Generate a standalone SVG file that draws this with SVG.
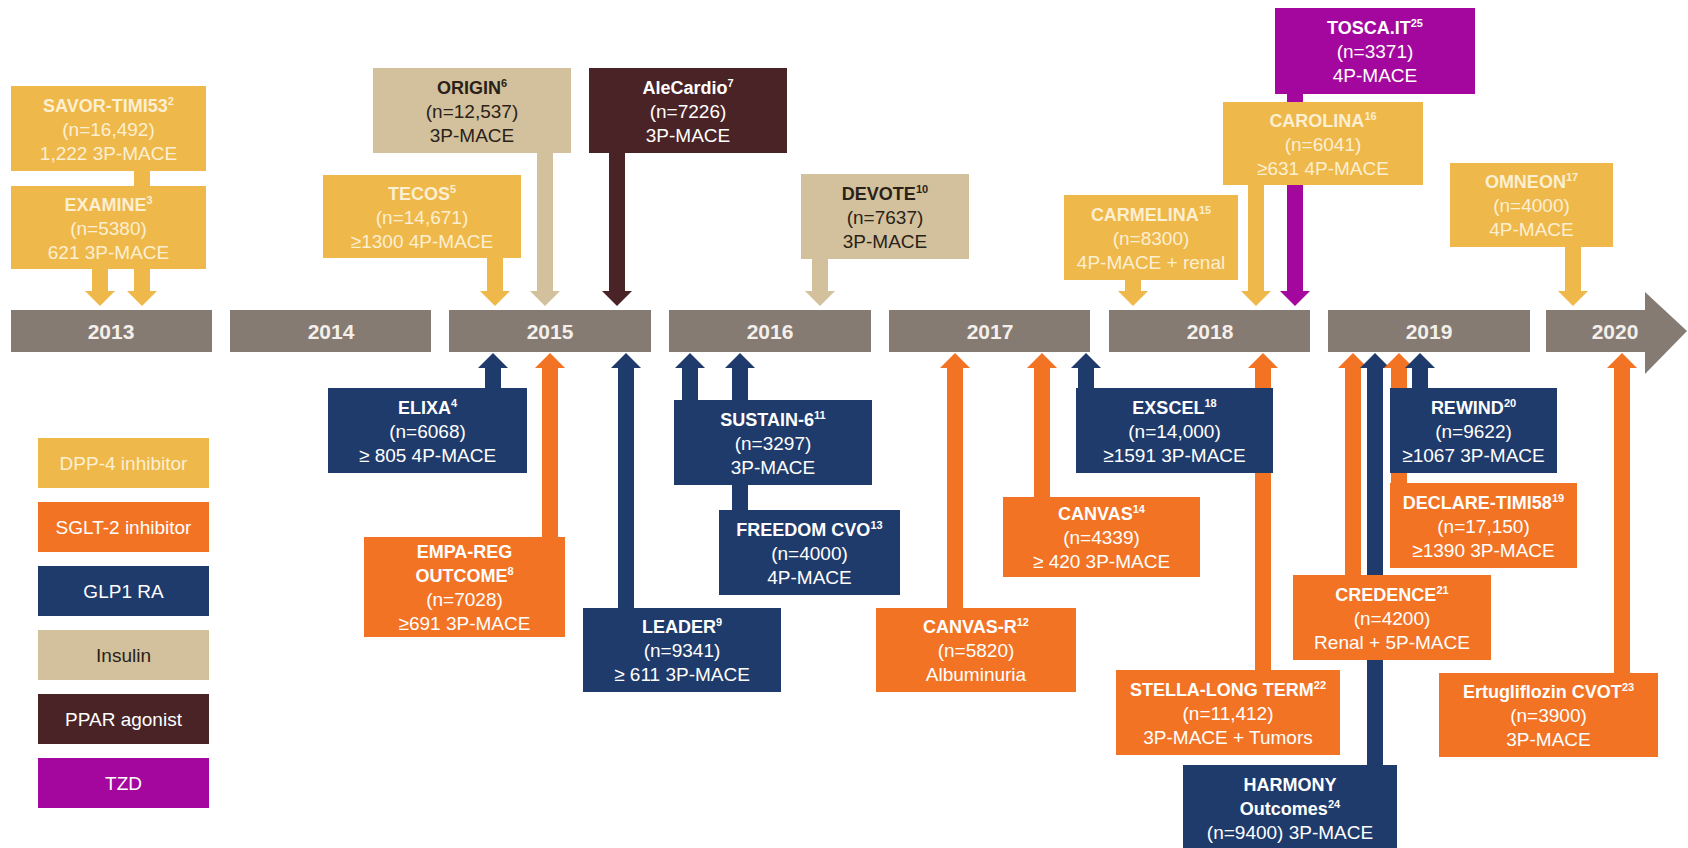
<svg xmlns="http://www.w3.org/2000/svg" width="1688" height="848" viewBox="0 0 1688 848">
<style>
text{font-family:"Liberation Sans",Arial,sans-serif;text-anchor:middle;font-size:19px}
.t{font-weight:bold;font-size:18px}
.yr{font-weight:bold;font-size:21px;fill:#F4EFEA}
.sup{font-size:11px}
.cy{fill:#FCEFD2}.cw{fill:#FFFFFF}.cd{fill:#2A2119}
.fy{fill:#EFB84A}.fo{fill:#F37325}.fn{fill:#1F3B6C}.ft{fill:#D2C19C}.fb{fill:#4A2326}.fm{fill:#A4079E}.fg{fill:#857B72}
.a{stroke-width:16;fill:none}
.sy{stroke:#EFB84A}.so{stroke:#F37325}.sn{stroke:#1F3B6C}.st{stroke:#D2C19C}.sb{stroke:#4A2326}.sm{stroke:#A4079E}
</style>
<defs>
<marker id="my" viewBox="0 -15 15 30" markerUnits="userSpaceOnUse" markerWidth="15" markerHeight="30" refX="0" refY="0" orient="auto"><path d="M0,-15L15,0L0,15z" fill="#EFB84A"/></marker>
<marker id="mo" viewBox="0 -15 15 30" markerUnits="userSpaceOnUse" markerWidth="15" markerHeight="30" refX="0" refY="0" orient="auto"><path d="M0,-15L15,0L0,15z" fill="#F37325"/></marker>
<marker id="mn" viewBox="0 -15 15 30" markerUnits="userSpaceOnUse" markerWidth="15" markerHeight="30" refX="0" refY="0" orient="auto"><path d="M0,-15L15,0L0,15z" fill="#1F3B6C"/></marker>
<marker id="mt" viewBox="0 -15 15 30" markerUnits="userSpaceOnUse" markerWidth="15" markerHeight="30" refX="0" refY="0" orient="auto"><path d="M0,-15L15,0L0,15z" fill="#D2C19C"/></marker>
<marker id="mb" viewBox="0 -15 15 30" markerUnits="userSpaceOnUse" markerWidth="15" markerHeight="30" refX="0" refY="0" orient="auto"><path d="M0,-15L15,0L0,15z" fill="#4A2326"/></marker>
<marker id="mm" viewBox="0 -15 15 30" markerUnits="userSpaceOnUse" markerWidth="15" markerHeight="30" refX="0" refY="0" orient="auto"><path d="M0,-15L15,0L0,15z" fill="#A4079E"/></marker>
</defs>
<rect width="1688" height="848" fill="#FFFFFF"/>

<g id="timeline">
<rect class="fg" x="11" y="310" width="201" height="42"/>
<rect class="fg" x="230" y="310" width="201" height="42"/>
<rect class="fg" x="449" y="310" width="202" height="42"/>
<rect class="fg" x="669" y="310" width="202" height="42"/>
<rect class="fg" x="889" y="310" width="201" height="42"/>
<rect class="fg" x="1109" y="310" width="201" height="42"/>
<rect class="fg" x="1328" y="310" width="202" height="42"/>
<path class="fg" d="M1546,310H1645V292L1687,331L1645,374V352H1546z"/>
<text class="yr" x="111" y="339">2013</text>
<text class="yr" x="331" y="339">2014</text>
<text class="yr" x="550" y="339">2015</text>
<text class="yr" x="770" y="339">2016</text>
<text class="yr" x="990" y="339">2017</text>
<text class="yr" x="1210" y="339">2018</text>
<text class="yr" x="1429" y="339">2019</text>
<text class="yr" x="1615" y="339">2020</text>
</g>

<g id="connectors">
<line class="a sy" x1="100" y1="269" x2="100" y2="291" marker-end="url(#my)"/>
<line class="a sy" x1="142" y1="171" x2="142" y2="291" marker-end="url(#my)"/>
<line class="a sy" x1="495" y1="258" x2="495" y2="291" marker-end="url(#my)"/>
<line class="a st" x1="545" y1="153" x2="545" y2="291" marker-end="url(#mt)"/>
<line class="a sb" x1="617" y1="153" x2="617" y2="291" marker-end="url(#mb)"/>
<line class="a st" x1="820" y1="259" x2="820" y2="291" marker-end="url(#mt)"/>
<line class="a sy" x1="1133" y1="280" x2="1133" y2="291" marker-end="url(#my)"/>
<line class="a sy" x1="1256" y1="185" x2="1256" y2="291" marker-end="url(#my)"/>
<line class="a sm" x1="1295" y1="94" x2="1295" y2="291" marker-end="url(#mm)"/>
<line class="a sy" x1="1573" y1="247" x2="1573" y2="291" marker-end="url(#my)"/>

<line class="a sn" x1="493" y1="388" x2="493" y2="368" marker-end="url(#mn)"/>
<line class="a so" x1="550" y1="537" x2="550" y2="368" marker-end="url(#mo)"/>
<line class="a sn" x1="626" y1="608" x2="626" y2="368" marker-end="url(#mn)"/>
<line class="a sn" x1="690" y1="400" x2="690" y2="368" marker-end="url(#mn)"/>
<line class="a sn" x1="740" y1="510" x2="740" y2="368" marker-end="url(#mn)"/>
<line class="a so" x1="955" y1="608" x2="955" y2="368" marker-end="url(#mo)"/>
<line class="a so" x1="1042" y1="497" x2="1042" y2="368" marker-end="url(#mo)"/>
<line class="a sn" x1="1086" y1="388" x2="1086" y2="368" marker-end="url(#mn)"/>
<line class="a so" x1="1263" y1="670" x2="1263" y2="368" marker-end="url(#mo)"/>
<line class="a so" x1="1353" y1="575" x2="1353" y2="368" marker-end="url(#mo)"/>
<line class="a sn" x1="1375" y1="765" x2="1375" y2="368" marker-end="url(#mn)"/>
<line class="a so" x1="1399" y1="483" x2="1399" y2="368" marker-end="url(#mo)"/>
<line class="a sn" x1="1420" y1="388" x2="1420" y2="368" marker-end="url(#mn)"/>
<line class="a so" x1="1622" y1="673" x2="1622" y2="368" marker-end="url(#mo)"/>
</g>

<g id="savor"><rect class="fy" x="11" y="86" width="195" height="85"/>
<text class="t cy" x="108.5" y="111.5">SAVOR-TIMI53<tspan class="sup" dy="-7">2</tspan></text>
<text class="cy" x="108.5" y="135.5">(n=16,492)</text>
<text class="cy" x="108.5" y="159.5">1,222 3P-MACE</text></g>

<g id="examine"><rect class="fy" x="11" y="186" width="195" height="83"/>
<text class="t cy" x="108.5" y="210.5">EXAMINE<tspan class="sup" dy="-7">3</tspan></text>
<text class="cy" x="108.5" y="234.5">(n=5380)</text>
<text class="cy" x="108.5" y="258.5">621 3P-MACE</text></g>

<g id="tecos"><rect class="fy" x="323" y="175" width="198" height="83"/>
<text class="t cy" x="422" y="199.5">TECOS<tspan class="sup" dy="-7">5</tspan></text>
<text class="cy" x="422" y="223.5">(n=14,671)</text>
<text class="cy" x="422" y="247.5">≥1300 4P-MACE</text></g>

<g id="origin"><rect class="ft" x="373" y="68" width="198" height="85"/>
<text class="t cd" x="472" y="93.5">ORIGIN<tspan class="sup" dy="-7">6</tspan></text>
<text class="cd" x="472" y="117.5">(n=12,537)</text>
<text class="cd" x="472" y="141.5">3P-MACE</text></g>

<g id="alecardio"><rect class="fb" x="589" y="68" width="198" height="85"/>
<text class="t cw" x="688" y="93.5">AleCardio<tspan class="sup" dy="-7">7</tspan></text>
<text class="cw" x="688" y="117.5">(n=7226)</text>
<text class="cw" x="688" y="141.5">3P-MACE</text></g>

<g id="devote"><rect class="ft" x="801" y="174" width="168" height="85"/>
<text class="t cd" x="885" y="199.5">DEVOTE<tspan class="sup" dy="-7">10</tspan></text>
<text class="cd" x="885" y="223.5">(n=7637)</text>
<text class="cd" x="885" y="247.5">3P-MACE</text></g>

<g id="carmelina"><rect class="fy" x="1064" y="195" width="174" height="85"/>
<text class="t cy" x="1151" y="220.5">CARMELINA<tspan class="sup" dy="-7">15</tspan></text>
<text class="cy" x="1151" y="244.5">(n=8300)</text>
<text class="cy" x="1151" y="268.5">4P-MACE + renal</text></g>

<g id="carolina"><rect class="fy" x="1223" y="102" width="200" height="83"/>
<text class="t cy" x="1323" y="126.5">CAROLINA<tspan class="sup" dy="-7">16</tspan></text>
<text class="cy" x="1323" y="150.5">(n=6041)</text>
<text class="cy" x="1323" y="174.5">≥631 4P-MACE</text></g>

<g id="toscait"><rect class="fm" x="1275" y="8" width="200" height="86"/>
<text class="t cw" x="1375" y="34">TOSCA.IT<tspan class="sup" dy="-7">25</tspan></text>
<text class="cw" x="1375" y="58">(n=3371)</text>
<text class="cw" x="1375" y="82">4P-MACE</text></g>

<g id="omneon"><rect class="fy" x="1450" y="163" width="163" height="84"/>
<text class="t cy" x="1531.5" y="188">OMNEON<tspan class="sup" dy="-7">17</tspan></text>
<text class="cy" x="1531.5" y="212">(n=4000)</text>
<text class="cy" x="1531.5" y="236">4P-MACE</text></g>

<g id="elixa"><rect class="fn" x="328" y="388" width="199" height="85"/>
<text class="t cw" x="427.5" y="413.5">ELIXA<tspan class="sup" dy="-7">4</tspan></text>
<text class="cw" x="427.5" y="437.5">(n=6068)</text>
<text class="cw" x="427.5" y="461.5">≥ 805 4P-MACE</text></g>

<g id="empareg"><rect class="fo" x="364" y="537" width="201" height="100"/>
<text class="t cw" x="464.5" y="558">EMPA-REG</text>
<text class="t cw" x="464.5" y="582">OUTCOME<tspan class="sup" dy="-7">8</tspan></text>
<text class="cw" x="464.5" y="606">(n=7028)</text>
<text class="cw" x="464.5" y="630">≥691 3P-MACE</text></g>

<g id="leader"><rect class="fn" x="583" y="608" width="198" height="84"/>
<text class="t cw" x="682" y="633">LEADER<tspan class="sup" dy="-7">9</tspan></text>
<text class="cw" x="682" y="657">(n=9341)</text>
<text class="cw" x="682" y="681">≥ 611 3P-MACE</text></g>

<g id="sustain6"><rect class="fn" x="674" y="400" width="198" height="85"/>
<text class="t cw" x="773" y="425.5">SUSTAIN-6<tspan class="sup" dy="-7">11</tspan></text>
<text class="cw" x="773" y="449.5">(n=3297)</text>
<text class="cw" x="773" y="473.5">3P-MACE</text></g>

<g id="freedomcvo"><rect class="fn" x="719" y="510" width="181" height="85"/>
<text class="t cw" x="809.5" y="535.5">FREEDOM CVO<tspan class="sup" dy="-7">13</tspan></text>
<text class="cw" x="809.5" y="559.5">(n=4000)</text>
<text class="cw" x="809.5" y="583.5">4P-MACE</text></g>

<g id="canvasr"><rect class="fo" x="876" y="608" width="200" height="84"/>
<text class="t cw" x="976" y="633">CANVAS-R<tspan class="sup" dy="-7">12</tspan></text>
<text class="cw" x="976" y="657">(n=5820)</text>
<text class="cw" x="976" y="681">Albuminuria</text></g>

<g id="canvas"><rect class="fo" x="1003" y="497" width="197" height="80"/>
<text class="t cw" x="1101.5" y="520">CANVAS<tspan class="sup" dy="-7">14</tspan></text>
<text class="cw" x="1101.5" y="544">(n=4339)</text>
<text class="cw" x="1101.5" y="568">≥ 420 3P-MACE</text></g>

<g id="exscel"><rect class="fn" x="1076" y="388" width="197" height="85"/>
<text class="t cw" x="1174.5" y="413.5">EXSCEL<tspan class="sup" dy="-7">18</tspan></text>
<text class="cw" x="1174.5" y="437.5">(n=14,000)</text>
<text class="cw" x="1174.5" y="461.5">≥1591 3P-MACE</text></g>

<g id="stella"><rect class="fo" x="1116" y="670" width="224" height="85"/>
<text class="t cw" x="1228" y="695.5">STELLA-LONG TERM<tspan class="sup" dy="-7">22</tspan></text>
<text class="cw" x="1228" y="719.5">(n=11,412)</text>
<text class="cw" x="1228" y="743.5">3P-MACE + Tumors</text></g>

<g id="rewind"><rect class="fn" x="1390" y="388" width="167" height="85"/>
<text class="t cw" x="1473.5" y="413.5">REWIND<tspan class="sup" dy="-7">20</tspan></text>
<text class="cw" x="1473.5" y="437.5">(n=9622)</text>
<text class="cw" x="1473.5" y="461.5">≥1067 3P-MACE</text></g>

<g id="declare"><rect class="fo" x="1390" y="483" width="187" height="85"/>
<text class="t cw" x="1483.5" y="508.5">DECLARE-TIMI58<tspan class="sup" dy="-7">19</tspan></text>
<text class="cw" x="1483.5" y="532.5">(n=17,150)</text>
<text class="cw" x="1483.5" y="556.5">≥1390 3P-MACE</text></g>

<g id="credence"><rect class="fo" x="1293" y="575" width="198" height="85"/>
<text class="t cw" x="1392" y="600.5">CREDENCE<tspan class="sup" dy="-7">21</tspan></text>
<text class="cw" x="1392" y="624.5">(n=4200)</text>
<text class="cw" x="1392" y="648.5">Renal + 5P-MACE</text></g>

<g id="ertugliflozin"><rect class="fo" x="1439" y="673" width="219" height="84"/>
<text class="t cw" x="1548.5" y="698">Ertugliflozin CVOT<tspan class="sup" dy="-7">23</tspan></text>
<text class="cw" x="1548.5" y="722">(n=3900)</text>
<text class="cw" x="1548.5" y="746">3P-MACE</text></g>

<g id="harmony"><rect class="fn" x="1183" y="765" width="214" height="90"/>
<text class="t cw" x="1290" y="791">HARMONY</text>
<text class="t cw" x="1290" y="815">Outcomes<tspan class="sup" dy="-7">24</tspan></text>
<text class="cw" x="1290" y="839">(n=9400) 3P-MACE</text></g>

<g id="legend">
<rect class="fy" x="38" y="438" width="171" height="50"/><text class="cy" x="123.5" y="470">DPP-4 inhibitor</text>
<rect class="fo" x="38" y="502" width="171" height="50"/><text class="cw" x="123.5" y="534">SGLT-2 inhibitor</text>
<rect class="fn" x="38" y="566" width="171" height="50"/><text class="cw" x="123.5" y="598">GLP1 RA</text>
<rect class="ft" x="38" y="630" width="171" height="50"/><text class="cd" x="123.5" y="662">Insulin</text>
<rect class="fb" x="38" y="694" width="171" height="50"/><text class="cw" x="123.5" y="726">PPAR agonist</text>
<rect class="fm" x="38" y="758" width="171" height="50"/><text class="cw" x="123.5" y="790">TZD</text>
</g>
</svg>
